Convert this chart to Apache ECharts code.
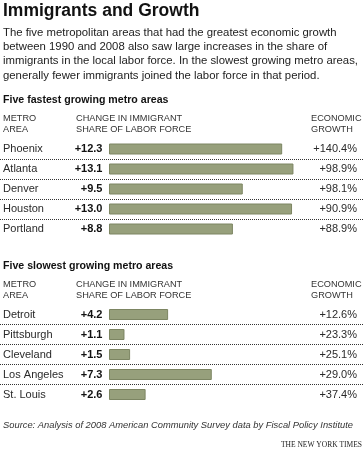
<!DOCTYPE html>
<html>
<head>
<meta charset="utf-8">
<script src="https://cdn.jsdelivr.net/npm/echarts@6/dist/echarts.min.js"></script>
<style>
html,body{margin:0;padding:0;background:#fff;}
#chart{width:363px;height:450px;}
</style>
</head>
<body>
<div id="chart"></div>
<script>
// Data
var fastCities = ['Phoenix', 'Atlanta', 'Denver', 'Houston', 'Portland'];
var fastChange = [12.3, 13.1, 9.5, 13.0, 8.8];
var fastGrowth = [140.4, 98.9, 98.1, 90.9, 88.9];

var slowCities = ['Detroit', 'Pittsburgh', 'Cleveland', 'Los Angeles', 'St. Louis'];
var slowChange = [4.2, 1.1, 1.5, 7.3, 2.6];
var slowGrowth = [12.6, 23.3, 25.1, 29.0, 37.4];

var FONT = '"Liberation Sans", Arial, Helvetica, sans-serif';
var BAR = '#97a07c';
var BAR_BORDER = '#7c8562';

function fmtChange(v) { return '+' + v.toFixed(1); }
function fmtGrowth(v) { return '+' + v.toFixed(1) + '%'; }

var grids = [
  { left: 0, right: 0, top: 139, height: 100 },
  { left: 0, right: 0, top: 304.5, height: 100 }
];

function xAx(i) {
  return { gridIndex: i, type: 'value', min: -7.74, max: 18.04, show: false };
}
function yLeft(i, cats) {
  return {
    gridIndex: i, type: 'category', data: cats, inverse: true,
    axisLine: { show: false }, axisTick: { show: false },
    axisLabel: { inside: true, margin: 3, color: '#2a2a2a', fontSize: 11, fontFamily: FONT },
    splitLine: { show: true, showMinLine: false, showMaxLine: false,
      lineStyle: { color: '#333', width: 1, type: [1, 1] } }
  };
}
function yRight(i, vals) {
  return {
    gridIndex: i, type: 'category', position: 'right', data: vals.map(fmtGrowth), inverse: true,
    axisLine: { show: false }, axisTick: { show: false }, splitLine: { show: false },
    axisLabel: { inside: true, margin: 6, color: '#2a2a2a', fontSize: 11, fontFamily: FONT }
  };
}
function barSeries(i, vals) {
  return {
    type: 'bar', xAxisIndex: i, yAxisIndex: i * 2, data: vals, barWidth: 11,
    itemStyle: { color: BAR, borderColor: BAR_BORDER, borderWidth: 1 },
    label: { show: true, position: 'left', distance: 6.5, formatter: function (p) { return fmtChange(p.value); },
      color: '#111', fontWeight: 'bold', fontSize: 11, fontFamily: FONT },
    silent: true, animation: false
  };
}

function txt(x, y, text, o) {
  o = o || {};
  return {
    type: 'text', x: x, y: y, silent: true,
    style: {
      text: text, fill: o.fill || '#222', fontSize: o.size || 11, fontFamily: o.family || FONT,
      fontWeight: o.weight || 'normal', fontStyle: o.style || 'normal',
      align: o.align || 'left', verticalAlign: o.va || 'middle', lineHeight: o.lh
    }
  };
}

var graphics = [
  txt(3, 11, 'Immigrants and Growth', { size: 17.5, weight: 'bold', fill: '#111' }),
  txt(3, 25.3, 'The five metropolitan areas that had the greatest economic growth\nbetween 1990 and 2008 also saw large increases in the share of\nimmigrants in the local labor force. In the slowest growing metro areas,\ngenerally fewer immigrants joined the labor force in that period.', { size: 11.35, va: 'top', lh: 14.4 }),
  txt(3, 100.5, 'Five fastest growing metro areas', { size: 10.6, weight: 'bold', fill: '#111' }),
  txt(3, 113, 'METRO\nAREA', { size: 9.2, va: 'top', lh: 10.7, fill: '#333' }),
  txt(76, 113, 'CHANGE IN IMMIGRANT\nSHARE OF LABOR FORCE', { size: 9.2, va: 'top', lh: 10.7, fill: '#333' }),
  txt(311, 113, 'ECONOMIC\nGROWTH', { size: 9.2, va: 'top', lh: 10.7, fill: '#333' }),
  txt(3, 266, 'Five slowest growing metro areas', { size: 10.6, weight: 'bold', fill: '#111' }),
  txt(3, 279, 'METRO\nAREA', { size: 9.2, va: 'top', lh: 10.7, fill: '#333' }),
  txt(76, 279, 'CHANGE IN IMMIGRANT\nSHARE OF LABOR FORCE', { size: 9.2, va: 'top', lh: 10.7, fill: '#333' }),
  txt(311, 279, 'ECONOMIC\nGROWTH', { size: 9.2, va: 'top', lh: 10.7, fill: '#333' }),
  txt(3, 425, 'Source: Analysis of 2008 American Community Survey data by Fiscal Policy Institute', { size: 9.35, style: 'italic', fill: '#333' }),
  txt(362, 445, 'THE NEW YORK TIMES', { size: 7.5, family: '"Liberation Serif", "Times New Roman", serif', align: 'right', fill: '#222' })
];

var chart = echarts.init(document.getElementById('chart'), null, { renderer: 'canvas' });
chart.setOption({
  animation: false,
  backgroundColor: '#fff',
  grid: grids,
  xAxis: [xAx(0), xAx(1)],
  yAxis: [yLeft(0, fastCities), yRight(0, fastGrowth), yLeft(1, slowCities), yRight(1, slowGrowth)],
  series: [barSeries(0, fastChange), barSeries(1, slowChange)],
  graphic: graphics
});
</script>
</body>
</html>
